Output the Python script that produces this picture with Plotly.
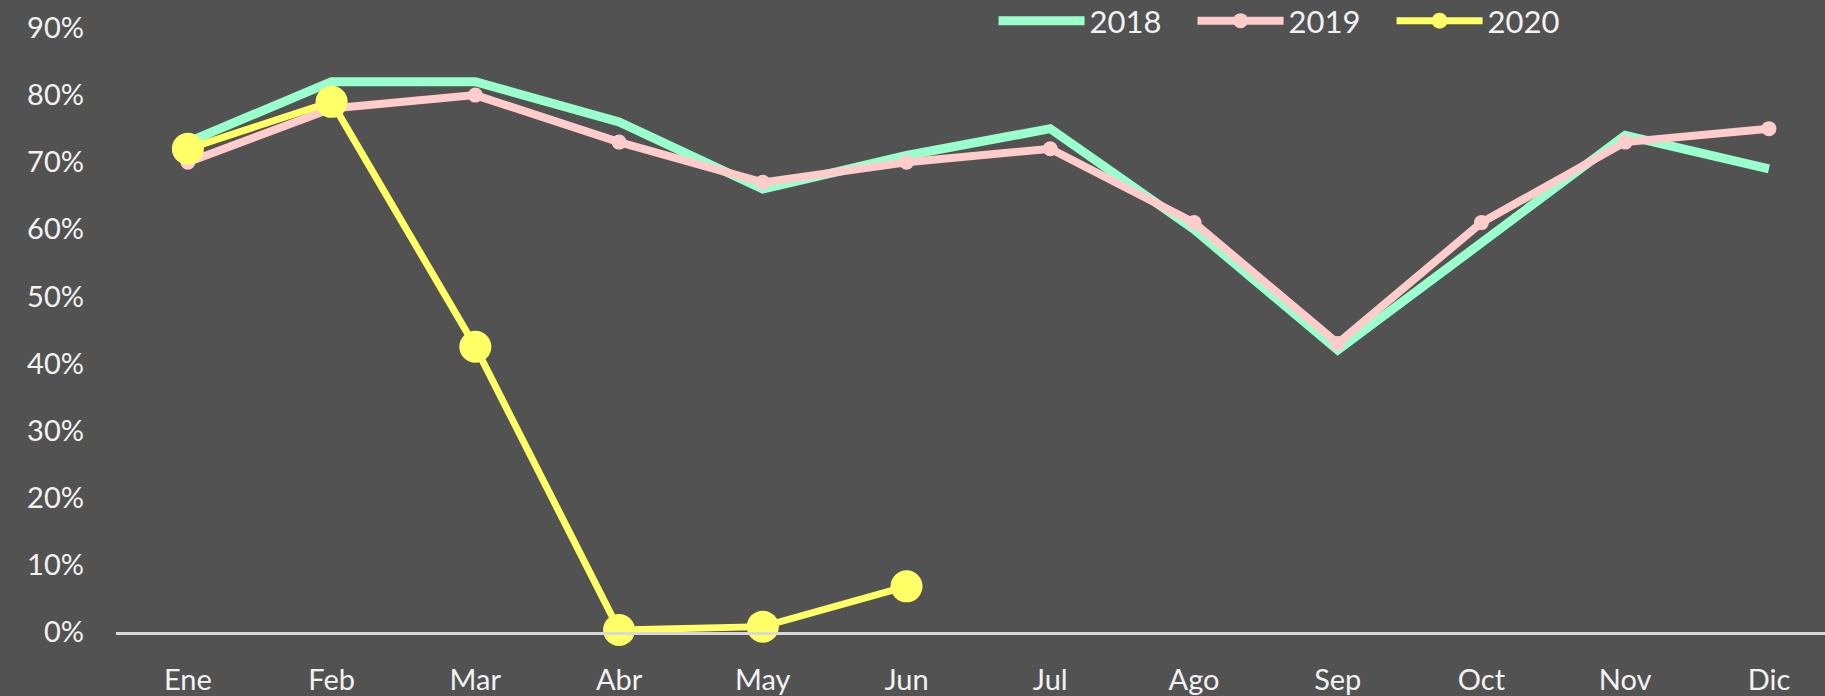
import plotly.graph_objects as go

months = ["Ene", "Feb", "Mar", "Abr", "May", "Jun", "Jul", "Ago", "Sep", "Oct", "Nov", "Dic"]
y2018 = [0.73, 0.82, 0.82, 0.76, 0.66, 0.71, 0.75, 0.60, 0.42, 0.58, 0.74, 0.69]
y2019 = [0.70, 0.78, 0.80, 0.73, 0.67, 0.70, 0.72, 0.61, 0.43, 0.61, 0.73, 0.75]
months2020 = ["Ene", "Feb", "Mar", "Abr", "May", "Jun"]
y2020 = [0.72, 0.79, 0.425, 0.003, 0.008, 0.068]

BG = "#525252"
TXT = "#F2F2F2"
FONT = "Lato"

fig = go.Figure()
fig.add_trace(go.Scatter(
    x=months, y=y2018, name="2018", mode="lines",
    line=dict(color="#99FFCC", width=9), cliponaxis=False,
))
fig.add_trace(go.Scatter(
    x=months, y=y2019, name="2019", mode="lines+markers",
    line=dict(color="#FFCCCC", width=8), marker=dict(size=15, color="#FFCCCC"),
    cliponaxis=False,
))
fig.add_trace(go.Scatter(
    x=months2020, y=y2020, name="2020", mode="lines+markers",
    line=dict(color="#FFFF66", width=7), marker=dict(size=32, color="#FFFF66"),
    cliponaxis=False,
))

fig.update_layout(
    width=1825, height=696,
    paper_bgcolor=BG, plot_bgcolor=BG,
    margin=dict(l=116, r=0, t=28, b=64, autoexpand=False),
    font=dict(family=FONT, size=29, color=TXT),
    showlegend=True,
    legend=dict(
        orientation="h", x=0.5135, xanchor="left", y=1.0116, yanchor="middle",
        bgcolor="rgba(0,0,0,0)", font=dict(family=FONT, size=31, color=TXT),
        itemwidth=86, entrywidth=98, traceorder="normal",
    ),
    xaxis=dict(
        type="category", categoryorder="array", categoryarray=months,
        range=[-0.5, 11.39], showgrid=False, zeroline=False,
        showline=True, linecolor="#D9D9D9", linewidth=3,
        ticks="", ticklabelstandoff=20,
        tickfont=dict(family=FONT, size=29, color=TXT),
    ),
    yaxis=dict(
        range=[0, 0.9], dtick=0.1, tick0=0, tickformat=".0%",
        showgrid=False, zeroline=False, showline=False, ticks="",
        ticklabelstandoff=31,
        tickfont=dict(family=FONT, size=29, color=TXT),
    ),
)

fig.write_html(
    "out.html",
    config={"displayModeBar": False},
    post_script="document.body.style.margin='0';document.body.style.background='#525252';",
)
